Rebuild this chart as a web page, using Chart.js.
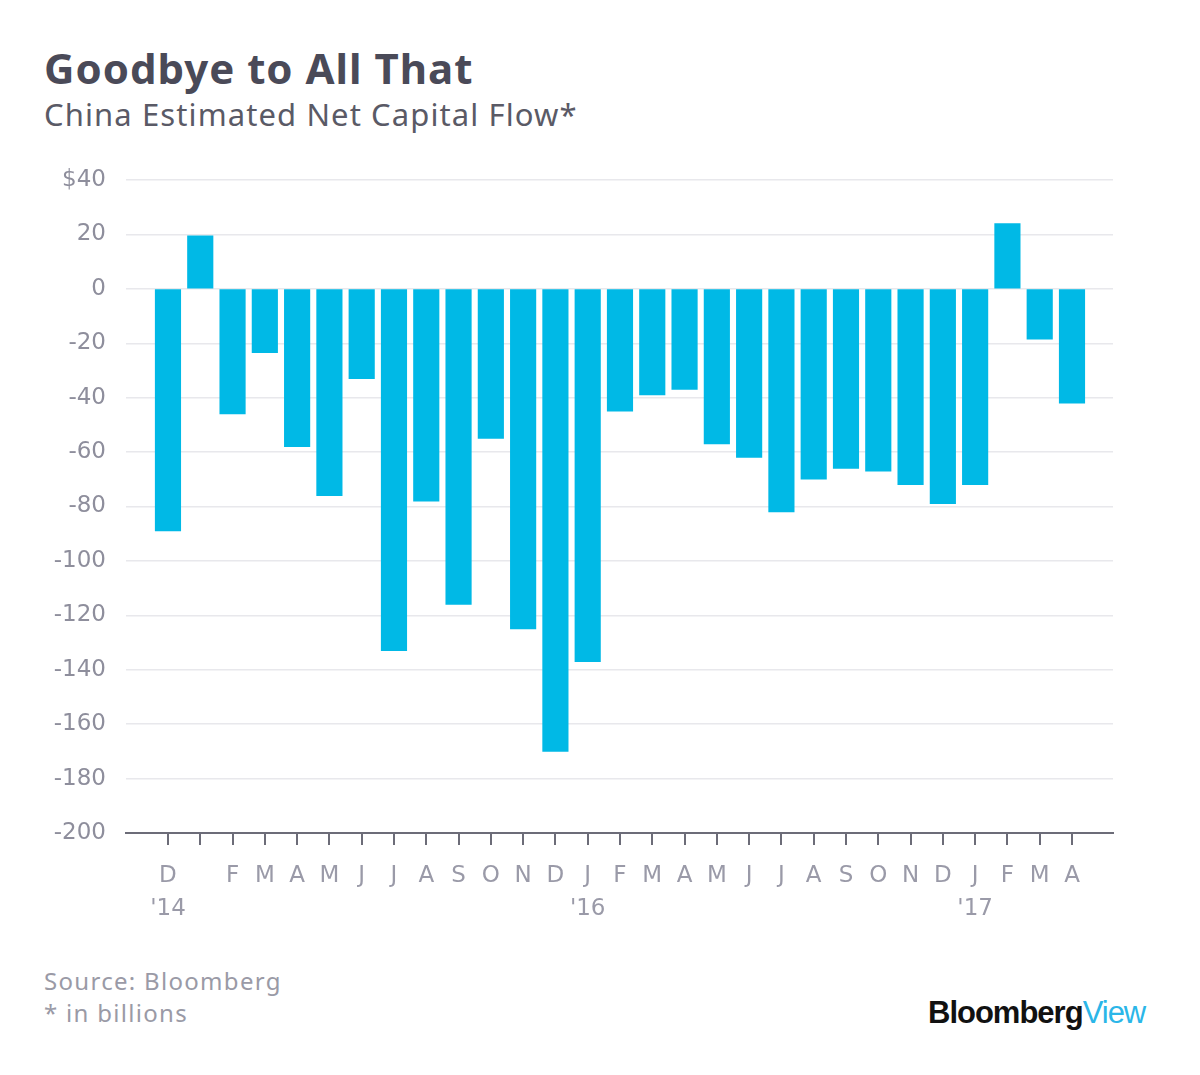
<!DOCTYPE html>
<html>
<head>
<meta charset="utf-8">
<script src="https://cdn.jsdelivr.net/npm/chart.js@4"></script>
<style>
  body { margin: 0; background: #fff; width: 1200px; height: 1075px; position: relative; overflow: hidden; font-family: "Noto Sans", "Open Sans", sans-serif; }
  #title { position: absolute; left: 44px; top: 39px; font-size: 42px; font-weight: bold; color: #4a4a58; letter-spacing: 1px; }
  #subtitle { position: absolute; left: 44px; top: 93px; font-size: 31px; color: #5a5a66; letter-spacing: 1.1px; }
  #wrap { position: absolute; left: 0; top: 0; width: 1200px; height: 960px; }
  #source { position: absolute; left: 44px; top: 965px; font-size: 24px; color: #9a9aa6; line-height: 32px; letter-spacing: 1.3px; }
  #logo { position: absolute; left: 928px; top: 995px; font-size: 31px; font-weight: bold; letter-spacing: -1px; color: #111; font-family: "Liberation Sans", Arial, sans-serif; }
  #logo span { color: #2bb6e8; font-weight: normal; }
</style>
</head>
<body>
<div id="title">Goodbye to All That</div>
<div id="subtitle">China Estimated Net Capital Flow*</div>
<div id="wrap"><canvas id="myChart"></canvas></div>
<div id="source">Source: Bloomberg<br>* in billions</div>
<div id="logo">Bloomberg<span>View</span></div>
<script>
  // months Dec 2014 .. Apr 2017 (Jan 2015 has no label)
  const months = ['D', '', 'F', 'M', 'A', 'M', 'J', 'J', 'A', 'S', 'O', 'N', 'D',
                  'J', 'F', 'M', 'A', 'M', 'J', 'J', 'A', 'S', 'O', 'N', 'D',
                  'J', 'F', 'M', 'A'];
  const years = ["'14", '', '', '', '', '', '', '', '', '', '', '', '',
                 "'16", '', '', '', '', '', '', '', '', '', '', '',
                 "'17", '', '', ''];
  const flows = [-89, 19.5, -46, -23.5, -58, -76, -33, -133, -78, -116, -55, -125, -170,
                 -137, -45, -39, -37, -57, -62, -82, -70, -66, -67, -72, -79,
                 -72, 24, -18.5, -42];
  const yTicks = [40, 20, 0, -20, -40, -60, -80, -100, -120, -140, -160, -180, -200];

  const points = flows.map((v, i) => ({ x: i, y: v }));

  const ctx = document.getElementById('myChart').getContext('2d');
  const myChart = new Chart(ctx, {
    type: 'bar',
    data: {
      datasets: [{
        data: points,
        backgroundColor: '#00b9e6',
        borderWidth: 0,
        barThickness: 25.5
      }]
    },
    options: {
      responsive: true,
      maintainAspectRatio: false,
      animation: false,
      layout: { padding: { top: 180, right: 87, left: 0, bottom: 0 } },
      plugins: { legend: { display: false }, tooltip: { enabled: false } },
      scales: {
        x: {
          type: 'linear',
          offset: false,
          min: -1.3,
          max: 29.27,
          afterFit: scale => { scale.height = 127; },
          border: { display: true, color: '#6c6c78', width: 2 },
          grid: { offset: false, drawOnChartArea: false, drawTicks: true, tickLength: 12, color: '#6c6c78', lineWidth: 2 },
          ticks: {
            stepSize: 1,
            includeBounds: false,
            autoSkip: false,
            maxRotation: 0,
            padding: 14,
            color: '#9a9aa8',
            font: { size: 23, family: 'DejaVu Sans', lineHeight: 1.45 },
            callback: v => {
              const i = Math.round(v);
              if (i < 0 || i >= months.length) return null;
              return years[i] ? [months[i], years[i]] : months[i];
            }
          }
        },
        y: {
          min: yTicks[yTicks.length - 1],
          max: yTicks[0],
          afterFit: scale => { scale.width = 126; },
          afterBuildTicks: scale => { scale.ticks = yTicks.map(v => ({ value: v })); },
          border: { display: false },
          grid: { color: '#e8e8ec', lineWidth: 1.5, drawTicks: false },
          ticks: {
            padding: 20,
            color: '#8e8e9c',
            font: { size: 23, family: 'DejaVu Sans' },
            callback: v => (v === yTicks[0] ? '$' + v : v)
          }
        }
      }
    }
  });
</script>
</body>
</html>
